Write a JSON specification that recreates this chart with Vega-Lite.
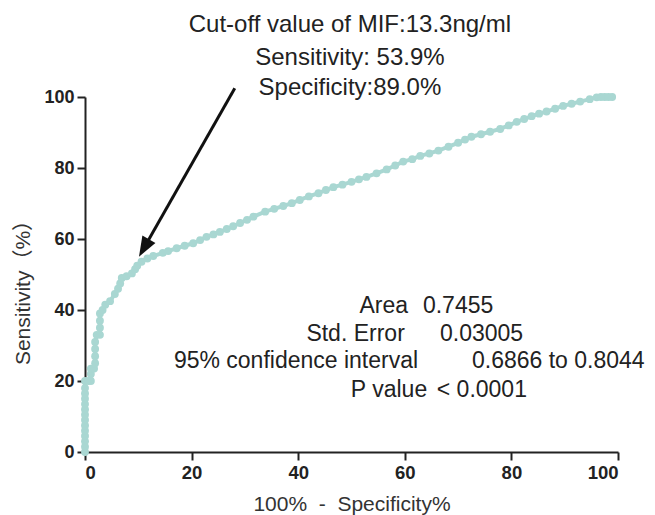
{
  "$schema": "https://vega.github.io/schema/vega-lite/v6.json",
  "autosize": "none",
  "width": 533,
  "height": 355,
  "padding": {"left": 85, "top": 97, "right": 37, "bottom": 63},
  "background": "white",
  "config": {"view": {"stroke": null}, "font": "Liberation Sans"},
  "datasets": {
    "roc": [
      {"x": 0, "y": 0}, {"x": 0, "y": 1.5}, {"x": 0, "y": 3}, {"x": 0, "y": 4.5}, {"x": 0, "y": 6}, {"x": 0, "y": 7.5},
      {"x": 0, "y": 9}, {"x": 0, "y": 10.5}, {"x": 0, "y": 12}, {"x": 0, "y": 13.5}, {"x": 0, "y": 15}, {"x": 0, "y": 16.5},
      {"x": 0, "y": 18}, {"x": 0, "y": 20}, {"x": 0.6, "y": 20}, {"x": 1.1, "y": 20}, {"x": 1.1, "y": 22}, {"x": 1.1, "y": 23.5},
      {"x": 1.7, "y": 23.5}, {"x": 1.9, "y": 25}, {"x": 1.9, "y": 27}, {"x": 1.9, "y": 29}, {"x": 1.9, "y": 31}, {"x": 2.2, "y": 33},
      {"x": 2.8, "y": 33}, {"x": 2.8, "y": 35}, {"x": 2.8, "y": 37}, {"x": 2.8, "y": 39}, {"x": 3.3, "y": 40}, {"x": 3.8, "y": 41.5},
      {"x": 4.7, "y": 42.5}, {"x": 5.6, "y": 44.5}, {"x": 6.2, "y": 46}, {"x": 6.6, "y": 47.5}, {"x": 6.9, "y": 49}, {"x": 7.8, "y": 49.5},
      {"x": 8.8, "y": 50.3}, {"x": 9.4, "y": 51.5}, {"x": 9.8, "y": 52.5}, {"x": 10.6, "y": 53.6}, {"x": 11.7, "y": 54.5}, {"x": 12.8, "y": 55.2},
      {"x": 14.6, "y": 56.1}, {"x": 15.6, "y": 56.6}, {"x": 17.2, "y": 57.4}, {"x": 18.7, "y": 58.1}, {"x": 20.3, "y": 58.8}, {"x": 21.6, "y": 59.7},
      {"x": 22.8, "y": 60.6}, {"x": 24.1, "y": 61.3}, {"x": 25.3, "y": 62}, {"x": 26.6, "y": 62.8}, {"x": 27.8, "y": 63.6}, {"x": 29.1, "y": 64.5},
      {"x": 30.4, "y": 65.4}, {"x": 31.6, "y": 66.3}, {"x": 33.8, "y": 67.7}, {"x": 35.5, "y": 68.5}, {"x": 37.2, "y": 69.3}, {"x": 38.8, "y": 70.1},
      {"x": 40.3, "y": 71}, {"x": 42, "y": 72}, {"x": 43.8, "y": 72.9}, {"x": 45.2, "y": 73.8}, {"x": 46.6, "y": 74.6}, {"x": 48.3, "y": 75.3},
      {"x": 50, "y": 76.1}, {"x": 51.4, "y": 76.8}, {"x": 52.8, "y": 77.5}, {"x": 54.7, "y": 78.5}, {"x": 56.6, "y": 79.6}, {"x": 58.2, "y": 80.7},
      {"x": 59.7, "y": 81.8}, {"x": 61.4, "y": 82.5}, {"x": 62.9, "y": 83.4}, {"x": 64.6, "y": 84.1}, {"x": 66.3, "y": 84.9}, {"x": 68.2, "y": 86},
      {"x": 70, "y": 87.1}, {"x": 71.3, "y": 88}, {"x": 72.5, "y": 88.8}, {"x": 74.3, "y": 89.5}, {"x": 76, "y": 90.2}, {"x": 77.9, "y": 91},
      {"x": 79.5, "y": 92}, {"x": 81, "y": 93}, {"x": 82.4, "y": 93.8}, {"x": 83.8, "y": 94.6}, {"x": 85.2, "y": 95.3}, {"x": 86.6, "y": 95.9},
      {"x": 88.2, "y": 96.7}, {"x": 89.7, "y": 97.5}, {"x": 91.3, "y": 98.1}, {"x": 92.9, "y": 98.7}, {"x": 94.7, "y": 99.4}, {"x": 96, "y": 99.9},
      {"x": 96.8, "y": 100}, {"x": 97.5, "y": 100}, {"x": 98.2, "y": 100}, {"x": 98.9, "y": 100}
    ],
    "arrow": [{"x": 28.1, "y": 102.45, "x2": 11.06, "y2": 57.46}],
    "head": [{"x": 11.06, "y": 57.46}],
    "top": [
      {"x": 49.7, "y": 118.4, "t": "Cut-off value of MIF:13.3ng/ml"},
      {"x": 49.7, "y": 109.0, "t": "Sensitivity: 53.9%"},
      {"x": 49.7, "y": 100.6, "t": "Specificity:89.0%"}
    ],
    "left": [
      {"x": 60.6, "y": 39.07, "t": "Area"},
      {"x": 60.0, "y": 31.27, "t": "Std. Error"},
      {"x": 62.5, "y": 23.58, "t": "95% confidence interval"},
      {"x": 64.2, "y": 15.58, "t": "P value"}
    ],
    "right": [
      {"x": 63.4, "y": 39.07, "t": "0.7455"},
      {"x": 66.6, "y": 31.27, "t": "0.03005"},
      {"x": 72.6, "y": 23.58, "t": "0.6866 to 0.8044"},
      {"x": 66.0, "y": 15.58, "t": "< 0.0001"}
    ]
  },
  "encoding": {
    "x": {
      "field": "x", "type": "quantitative",
      "scale": {"domain": [0, 100], "nice": false, "zero": false},
      "axis": {
        "values": [0, 20, 40, 60, 80, 100], "grid": false,
        "labelFont": "Liberation Sans", "labelFontWeight": "bold", "labelFontSize": 18.5, "labelColor": "#222",
        "tickColor": "#222", "tickSize": 8, "tickWidth": 2, "domainColor": "#222", "domainWidth": 2, "labelPadding": 3,
        "title": "100%\u00a0\u00a0-\u00a0\u00a0Specificity%", "titleFont": "Liberation Sans", "titleFontSize": 21, "titleFontWeight": "normal",
        "titleColor": "#333", "titleY": 58, "titleBaseline": "alphabetic"
      }
    },
    "y": {
      "field": "y", "type": "quantitative",
      "scale": {"domain": [0, 100], "nice": false, "zero": false},
      "axis": {
        "values": [0, 20, 40, 60, 80, 100], "grid": false,
        "labelFont": "Liberation Sans", "labelFontWeight": "bold", "labelFontSize": 18, "labelColor": "#222",
        "tickColor": "#222", "tickSize": 8, "tickWidth": 2, "domainColor": "#222", "domainWidth": 2, "labelPadding": 3,
        "title": "Sensitivity（%）", "titleFont": "Liberation Sans, Noto Sans CJK SC", "titleFontSize": 21, "titleFontWeight": "normal",
        "titleColor": "#333", "titleX": -62, "titleY": 190, "titleAngle": -90, "titleAlign": "center", "titleBaseline": "middle"
      }
    }
  },
  "layer": [
    {
      "data": {"name": "roc"},
      "mark": {"type": "line", "color": "#a9d7d2", "strokeWidth": 4,
        "point": {"filled": true, "size": 62, "color": "#a9d7d2", "opacity": 1}},
      "encoding": {"order": {"value": null}}
    },
    {
      "data": {"name": "arrow"},
      "mark": {"type": "rule", "color": "#111", "strokeWidth": 3},
      "encoding": {"x2": {"field": "x2"}, "y2": {"field": "y2"}}
    },
    {
      "data": {"name": "head"},
      "mark": {"type": "point", "shape": "M0,-1L0.75,1L-0.75,1Z", "filled": true, "color": "#111", "opacity": 1, "size": 400, "angle": 209.7},
      "encoding": {}
    },
    {
      "data": {"name": "top"},
      "mark": {"type": "text", "fontSize": 24, "align": "center", "baseline": "alphabetic", "color": "#222", "font": "Liberation Sans"},
      "encoding": {"text": {"field": "t"}}
    },
    {
      "data": {"name": "left"},
      "mark": {"type": "text", "fontSize": 23, "align": "right", "baseline": "alphabetic", "color": "#222", "font": "Liberation Sans"},
      "encoding": {"text": {"field": "t"}}
    },
    {
      "data": {"name": "right"},
      "mark": {"type": "text", "fontSize": 23, "align": "left", "baseline": "alphabetic", "color": "#222", "font": "Liberation Sans"},
      "encoding": {"text": {"field": "t"}}
    }
  ]
}
